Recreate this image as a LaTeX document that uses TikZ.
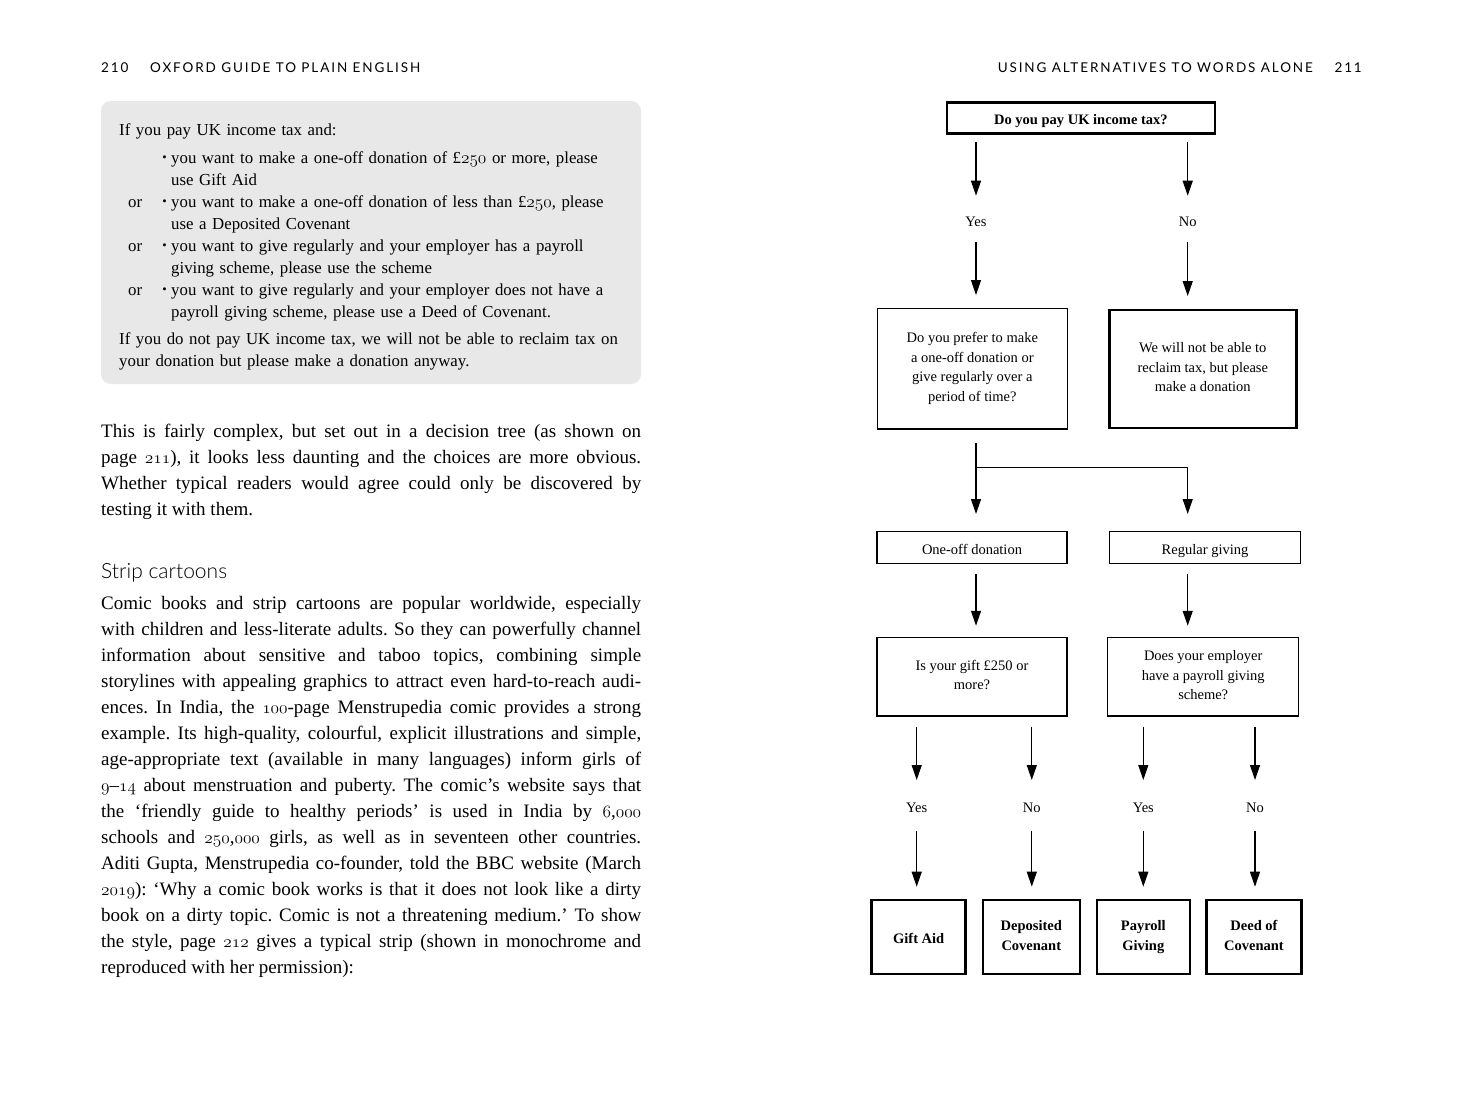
\documentclass[tikz,border=0pt]{standalone}
\usepackage{fontspec}
\setmainfont{Liberation Serif}
\newfontfamily\headsans{Lato}[LetterSpace=14]
\newfontfamily\lightsans{Lato Light}
\usetikzlibrary{arrows.meta}
% old-style figures for the running text
\newcommand\osnum[1]{{\usefont{OML}{cmm}{m}{it}#1}}
% one item of the boxed list: optional "or", a small bullet, then hanging text
\newcommand\listitem[1]{\par\hangindent=52pt\hangafter=1\noindent
  \makebox[52pt][l]{\hspace{9pt}#1\hfill\raisebox{0.08em}{\scalebox{0.75}{\textbullet}}\hspace{4.5pt}}}
\begin{document}
\begin{tikzpicture}[x=1pt,y=-1pt,
  runhead/.style={inner sep=0pt, font=\headsans\fontsize{13.5}{13.5}\selectfont},
  bodytext/.style={inner sep=0pt, text width=540pt, align=justify,
    font=\fontsize{19}{26}\selectfont},
  box/.style={draw, line width=1.2pt, inner sep=0pt, outer sep=0pt,
    align=center, font=\fontsize{14.5}{19.5}\selectfont,
    execute at begin node={\rule{0pt}{16.5pt}},
    execute at end node={\rule[-3.3pt]{0pt}{3.3pt}}},
  tbox/.style={box, line width=2.6pt},
  bbox/.style={tbox, font=\bfseries\fontsize{14.5}{19.5}\selectfont},
  lbl/.style={inner sep=0pt, font=\fontsize{14.5}{19.5}\selectfont},
  arr/.style={line width=1.2pt, -{Triangle[length=15pt,width=10pt]}}]

\useasboundingbox[fill=white] (0,0) rectangle (1464,1111);

% ---------- running heads ----------
\node[runhead, anchor=base west] (pgL) at (101,72) {210};
\node[runhead, anchor=base west] (runL) at (150,72) {OXFORD GUIDE TO PLAIN ENGLISH};
\node[runhead, anchor=base east] (runR) at (1313,72) {USING ALTERNATIVES TO WORDS ALONE};
\node[runhead, anchor=base east] (pgR) at (1362,72) {211};

% ---------- left page: shaded example ----------
\fill[black!9, rounded corners=10pt] (101,101) rectangle (641,384);
\node[inner sep=0pt, anchor=base west, text width=515pt, align=left,
  font=\fontsize{16.8}{22}\selectfont] (example) at (119,135) {%
\frenchspacing
If you pay UK income tax and:\par\vspace{6pt}
\listitem{}you want to make a one-off donation of £\osnum{250} or more, please\newline use Gift Aid
\listitem{or}you want to make a one-off donation of less than £\osnum{250}, please\newline use a Deposited Covenant
\listitem{or}you want to give regularly and your employer has a payroll\newline giving scheme, please use the scheme
\listitem{or}you want to give regularly and your employer does not have a\newline payroll giving scheme, please use a Deed of Covenant.\par\vspace{5pt}
\noindent If you do not pay UK income tax, we will not be able to reclaim tax on\newline your donation but please make a donation anyway.};

% ---------- left page: body text ----------
\node[bodytext, anchor=base west] (para1) at (101,437.5) {%
\frenchspacing
\spaceskip=0.25em plus 0.5em minus 0.12em\tolerance=9999
\hyphenpenalty=10000\exhyphenpenalty=10000
This is fairly complex, but set out in a decision tree (as shown on\linebreak
page \osnum{211}), it looks less daunting and the choices are more obvious.\linebreak
Whether typical readers would agree could only be discovered by\linebreak
testing it with them.};

\node[inner sep=0pt, anchor=base west, font=\lightsans\fontsize{21}{21}\selectfont]
  (head) at (101,578) {Strip cartoons};

\node[bodytext, anchor=base west] (para2) at (101,609.5) {%
\frenchspacing
\spaceskip=0.25em plus 0.5em minus 0.12em\tolerance=9999
\hyphenpenalty=10000\exhyphenpenalty=10000
Comic books and strip cartoons are popular worldwide, especially\linebreak
with children and less-literate adults. So they can powerfully channel\linebreak
information about sensitive and taboo topics, combining simple\linebreak
storylines with appealing graphics to attract even hard-to-reach audi-\linebreak
ences. In India, the \osnum{100}-page Menstrupedia comic provides a strong\linebreak
example. Its high-quality, colourful, explicit illustrations and simple,\linebreak
age-appropriate text (available in many languages) inform girls of\linebreak
\osnum{9}--\osnum{14} about menstruation and puberty. The comic's website says that\linebreak
the `friendly guide to healthy periods' is used in India by \osnum{6},\osnum{000}\linebreak
schools and \osnum{250},\osnum{000} girls, as well as in seventeen other countries.\linebreak
Aditi Gupta, Menstrupedia co-founder, told the BBC website (March\linebreak
\osnum{2019}): `Why a comic book works is that it does not look like a dirty\linebreak
book on a dirty topic. Comic is not a threatening medium.' To show\linebreak
the style, page \osnum{212} gives a typical strip (shown in monochrome and\linebreak
reproduced with her permission):};

% ---------- right page: decision tree ----------
\node[bbox, minimum width=268pt, minimum height=31pt] (top) at (1080.9,118) {Do you pay UK income tax?};

\node[lbl] (yes0) at (976,221.7) {Yes};
\node[lbl] (no0) at (1187.7,221.7) {No};

\node[box, minimum width=190pt, minimum height=120.7pt] (q1) at (972.3,368.7)
  {Do you prefer to make\\a one-off donation or\\give regularly over a\\period of time?};
\node[tbox, minimum width=187pt, minimum height=118pt] (nr) at (1202.8,369)
  {We will not be able to\\reclaim tax, but please\\make a donation};

\coordinate (split) at (976,467.3);

\node[box, minimum width=190pt, minimum height=31.6pt] (one) at (972,547.5) {One-off donation};
\node[box, minimum width=191.4pt, minimum height=31.6pt] (reg) at (1205,547.5) {Regular giving};

\node[box, minimum width=190pt, minimum height=78.7pt] (q3) at (972,676.7)
  {Is your gift £250 or\\more?};
\node[box, minimum width=191pt, minimum height=78.7pt] (q4) at (1203.2,676.7)
  {Does your employer\\have a payroll giving\\scheme?};

\node[lbl] (yesA) at (916.7,807.7) {Yes};
\node[lbl] (noA) at (1031.8,807.7) {No};
\node[lbl] (yesB) at (1143.3,807.7) {Yes};
\node[lbl] (noB) at (1255,807.7) {No};

\node[bbox, minimum width=94pt, minimum height=74pt] (r1) at (918.7,937) {Gift Aid};
\node[bbox, minimum width=97pt, minimum height=74pt] (r2) at (1031.3,937) {Deposited\\Covenant};
\node[bbox, minimum width=93pt, minimum height=74pt] (r3) at (1143.3,937) {Payroll\\Giving};
\node[bbox, minimum width=94.5pt, minimum height=74pt] (r4) at (1254,937) {Deed of\\Covenant};

% connectors
\draw[arr, shorten <=8.7pt, shorten >=26pt] (top.south -| yes0) -- (yes0.center);
\draw[arr, shorten <=8.7pt, shorten >=26pt] (top.south -| no0) -- (no0.center);
\draw[arr, shorten <=20pt, shorten >=13.3pt] (yes0.center) -- (yes0 |- q1.north);
\draw[arr, shorten <=20pt, shorten >=14pt] (no0.center) -- (no0 |- nr.north);

\draw[arr, shorten <=13.7pt, shorten >=17.7pt] (yes0 |- q1.south) -- (yes0 |- one.north);
\draw[arr, shorten >=17.7pt] (split) -| (no0 |- reg.north);

\draw[arr, shorten <=10.7pt, shorten >=11.6pt] (yes0 |- one.south) -- (yes0 |- q3.north);
\draw[arr, shorten <=10.7pt, shorten >=11.6pt] (no0 |- reg.south) -- (no0 |- q4.north);

\draw[arr, shorten <=10.7pt, shorten >=27.7pt] (yesA |- q3.south) -- (yesA.center);
\draw[arr, shorten <=10.7pt, shorten >=27.7pt] (noA |- q3.south) -- (noA.center);
\draw[arr, shorten <=10.7pt, shorten >=27.7pt] (yesB |- q4.south) -- (yesB.center);
\draw[arr, shorten <=10.7pt, shorten >=27.7pt] (noB |- q4.south) -- (noB.center);

\draw[arr, shorten <=23.3pt, shorten >=13.3pt] (yesA.center) -- (yesA |- r1.north);
\draw[arr, shorten <=23.3pt, shorten >=13.3pt] (noA.center) -- (noA |- r2.north);
\draw[arr, shorten <=23.3pt, shorten >=13.3pt] (yesB.center) -- (yesB |- r3.north);
\draw[arr, shorten <=23.3pt, shorten >=13.3pt] (noB.center) -- (noB |- r4.north);
\end{tikzpicture}
\end{document}
